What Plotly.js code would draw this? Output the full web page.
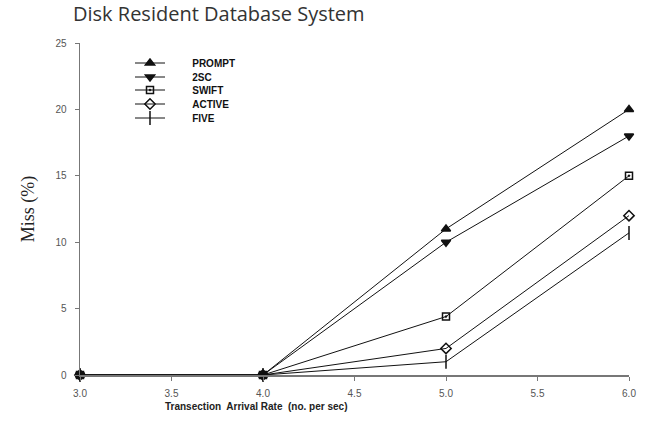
<!DOCTYPE html>
<html><head><meta charset="utf-8">
<script src="https://cdn.plot.ly/plotly-3.0.1.min.js"></script>
<style>body{margin:0;background:#fff}</style>
</head><body>
<div id="chart" style="width:647px;height:423px"></div>
<script>
const xRates = [3.0, 4.0, 5.0, 6.0];
const seriesNames = ["PROMPT", "2SC", "SWIFT", "ACTIVE", "FIVE"];
const prompt = [0, 0, 11.0, 20.0];
const twoSC = [0, 0, 10.0, 18.0];
const swift = [0, 0, 4.4, 15.0];
const active = [0, 0, 2.0, 12.0];
const five = [0, 0, 1.0, 10.7];
const seriesValues = [prompt, twoSC, swift, active, five];
const xTicks = [3.0, 3.5, 4.0, 4.5, 5.0, 5.5, 6.0];
const yTicks = [0, 5, 10, 15, 20, 25];

const symbols = ["triangle-up", "triangle-down", "square-open-dot", "diamond-open", "line-ns-open"];
const sizes = [8, 8, 7, 8, 10];
const legendIds = ["legend", "legend2", "legend3", "legend4", "legend5"];
const legendRowsPx = [63, 77, 90, 104, 118];
const pad = "\u00A0".repeat(8);

const traces = seriesNames.map((n, i) => ({
  x: xRates, y: seriesValues[i], name: pad + n, type: "scatter", mode: "lines+markers",
  legend: legendIds[i],
  line: {color: "#111", width: 1},
  marker: {symbol: symbols[i], size: sizes[i], color: "#111", line: {color: "#111", width: 1.5}},
  cliponaxis: false
}));

const plotLeft = 80, plotRight = 629, plotTop = 43, plotBottom = 375;
const pw = plotRight - plotLeft, ph = plotBottom - plotTop;
const legendFont = {family: "Arial, Liberation Sans, sans-serif", size: 10, color: "#111", weight: "bold"};
const layout = {
  width: 647, height: 423,
  margin: {l: plotLeft, r: 647 - plotRight, t: plotTop, b: 423 - plotBottom},
  paper_bgcolor: "#fff", plot_bgcolor: "#fff",
  title: {text: "Disk Resident Database System", xref: "container", x: 73/647, xanchor: "left",
          yref: "container", y: 1 - 14/423, yanchor: "middle",
          font: {family: "Open Sans, DejaVu Sans, sans-serif", size: 20, color: "#333"}},
  xaxis: {range: [3, 6], tickvals: xTicks, ticktext: xTicks.map(v => v.toFixed(1)),
          showgrid: false, zeroline: false, showline: true, linecolor: "#777", linewidth: 1.5,
          ticks: "outside", ticklen: 4, tickcolor: "#777", ticklabelstandoff: 4,
          tickfont: {family: "Arial, Liberation Sans, sans-serif", size: 10, color: "#555"}},
  yaxis: {range: [0, 25], tickvals: yTicks, showgrid: false, zeroline: false, showline: true,
          linecolor: "#777", linewidth: 1.5, ticks: "outside", ticklen: 4, tickcolor: "#777",
          ticklabelstandoff: 6,
          tickfont: {family: "Arial, Liberation Sans, sans-serif", size: 10, color: "#555"},
          title: {text: "Miss (%)", standoff: 16,
                  font: {family: "Liberation Serif, Times New Roman, serif", size: 18, color: "#222"}}},
  annotations: [{text: "<b>Transection  Arrival Rate  (no. per sec)</b>", showarrow: false,
                 xref: "paper", x: (256 - plotLeft) / pw, xanchor: "center",
                 yref: "paper", y: (plotBottom - 406) / ph, yanchor: "middle",
                 font: {family: "Arial, Liberation Sans, sans-serif", size: 10, color: "#222"}}],
  showlegend: true
};
legendIds.forEach((id, i) => {
  layout[id] = {x: (130 - plotLeft) / pw, xanchor: "left",
                y: (plotBottom - legendRowsPx[i]) / ph, yanchor: "middle",
                bgcolor: "rgba(0,0,0,0)", font: legendFont, itemwidth: 30, borderwidth: 0};
});
Plotly.newPlot("chart", traces, layout, {displayModeBar: false, staticPlot: true});
</script>
</body></html>
